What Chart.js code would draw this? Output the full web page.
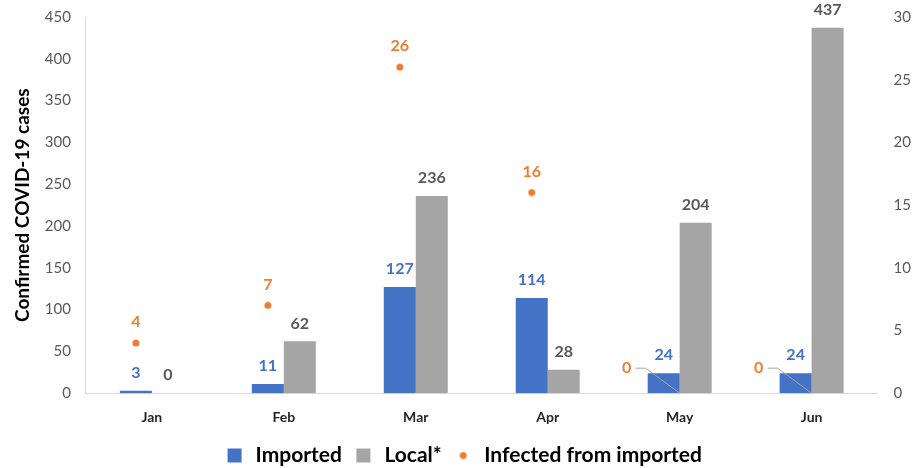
<!DOCTYPE html>
<html>
<head>
<meta charset="utf-8">
<script src="https://cdn.jsdelivr.net/npm/chart.js@4.4.1/dist/chart.umd.min.js"></script>
<style>
  html, body { margin: 0; padding: 0; background: #fff; }
  #wrap { width: 914px; height: 468px; }
</style>
</head>
<body>
<div id="wrap"><canvas id="chart"></canvas></div>
<script>
const months = ['Jan', 'Feb', 'Mar', 'Apr', 'May', 'Jun'];
const imported = [3, 11, 127, 114, 24, 24];
const local = [0, 62, 236, 28, 204, 437];
const infectedFromImported = [4, 7, 26, 16, 0, 0];

const FONT = 'Lato, "Open Sans", sans-serif';
const BLUE = '#4472C4';
const GREY = '#A5A5A5';
const ORANGE = '#ED7D31';

// small orange dot for the legend
const dot = document.createElement('canvas');
dot.width = 8; dot.height = 8;
const dctx = dot.getContext('2d');
dctx.fillStyle = ORANGE;
dctx.beginPath(); dctx.arc(4, 4, 3.5, 0, Math.PI * 2); dctx.fill();

// put the orange points over the Imported bar, like the original
const alignPoints = {
  id: 'alignPoints',
  afterDatasetsUpdate(chart) {
    const bars = chart.getDatasetMeta(0).data;
    chart.getDatasetMeta(2).data.forEach((pt, i) => { pt.x = bars[i].x; });
  }
};

const valueLabels = {
  id: 'valueLabels',
  afterDatasetsDraw(chart) {
    const ctx = chart.ctx;
    ctx.save();
    ctx.font = 'bold 16px ' + FONT;
    ctx.textAlign = 'center';
    ctx.textBaseline = 'middle';
    const colors = [BLUE, '#595959'];
    [0, 1].forEach(di => {
      chart.getDatasetMeta(di).data.forEach((bar, i) => {
        ctx.fillStyle = colors[di];
        ctx.fillText(chart.data.datasets[di].data[i], bar.x, bar.y - 18);
      });
    });
    const bars = chart.getDatasetMeta(0).data;
    chart.getDatasetMeta(2).data.forEach((pt, i) => {
      const v = chart.data.datasets[2].data[i];
      ctx.fillStyle = ORANGE;
      if (v === 0) {
        const lx = pt.x - 37, ly = pt.y - 25;
        ctx.fillText(v, lx, ly);
        ctx.strokeStyle = '#A6A6A6';
        ctx.lineWidth = 1;
        ctx.beginPath();
        ctx.moveTo(lx + 9, ly);
        ctx.lineTo(lx + 19, ly);
        ctx.lineTo(bars[i].x + bars[i].width / 2, pt.y);
        ctx.stroke();
      } else {
        ctx.fillText(v, pt.x, pt.y - 21);
      }
    });
    ctx.restore();
  }
};

new Chart(document.getElementById('chart'), {
  type: 'bar',
  data: {
    labels: months,
    datasets: [
      {
        label: 'Imported',
        data: imported,
        backgroundColor: BLUE,
        yAxisID: 'y',
        pointStyle: 'rect',
        order: 2
      },
      {
        label: 'Local*',
        data: local,
        backgroundColor: GREY,
        yAxisID: 'y',
        pointStyle: 'rect',
        order: 2
      },
      {
        type: 'line',
        label: 'Infected from imported',
        data: infectedFromImported,
        showLine: false,
        yAxisID: 'y2',
        backgroundColor: ORANGE,
        borderColor: ORANGE,
        pointRadius: c => c.raw === 0 ? 0 : 3.5,
        pointBorderWidth: 0,
        pointStyle: dot,
        order: 1
      }
    ]
  },
  options: {
    responsive: true,
    maintainAspectRatio: false,
    animation: false,
    layout: { padding: { top: 12, left: 7, right: -5, bottom: -8 } },
    datasets: { bar: { barPercentage: 1, categoryPercentage: 0.485 } },
    plugins: {
      tooltip: { enabled: false },
      legend: {
        position: 'bottom',
        labels: {
          usePointStyle: true,
          boxHeight: 14,
          padding: 11,
          color: '#000',
          sort: (a, b) => a.datasetIndex - b.datasetIndex,
          font: { family: FONT, size: 21, weight: 'bold' }
        }
      }
    },
    scales: {
      x: {
        grid: { display: false },
        border: { display: true, color: '#D9D9D9' },
        ticks: { color: '#262626', font: { family: FONT, size: 14, weight: 'bold' }, padding: 8 }
      },
      y: {
        position: 'left',
        min: 0,
        max: 450,
        grid: { display: false },
        border: { display: true, color: '#D9D9D9' },
        ticks: { stepSize: 50, color: '#595959', font: { family: FONT, size: 15 }, padding: 7 },
        title: {
          display: true,
          text: 'Confirmed COVID-19 cases',
          color: '#000',
          font: { family: FONT, size: 19, weight: 'bold' },
          padding: { bottom: 4 }
        }
      },
      y2: {
        position: 'right',
        min: 0,
        max: 30,
        grid: { display: false },
        border: { display: false },
        ticks: { stepSize: 5, color: '#595959', font: { family: FONT, size: 15 }, padding: 8 }
      }
    }
  },
  plugins: [alignPoints, valueLabels]
});
</script>
</body>
</html>
